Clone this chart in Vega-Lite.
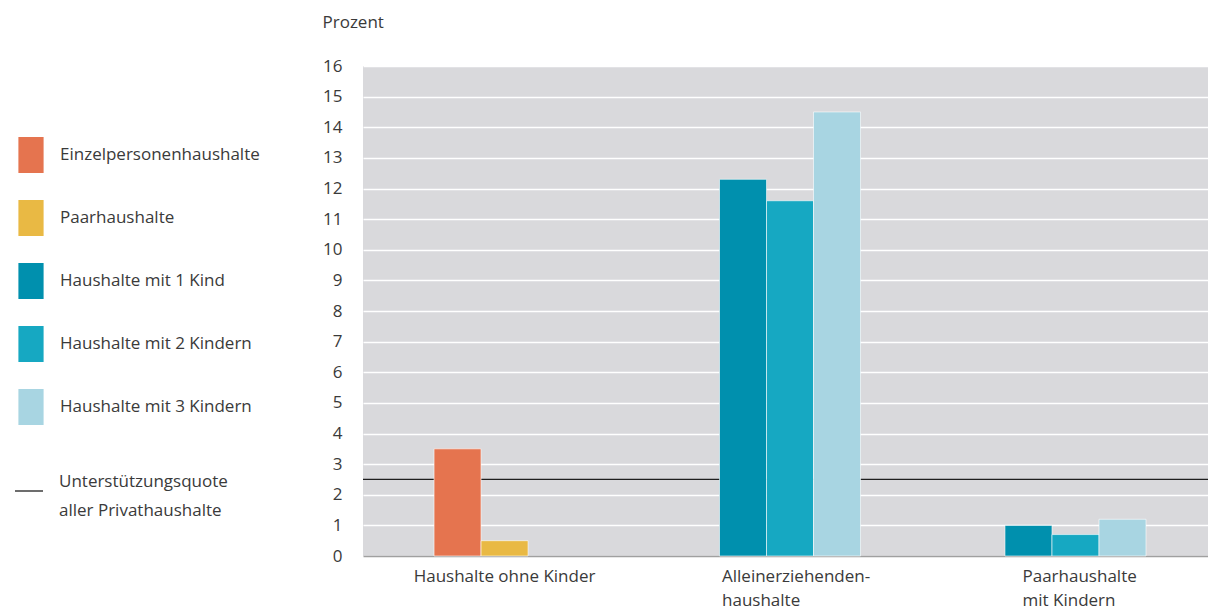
{
  "$schema": "https://vega.github.io/schema/vega-lite/v6.json",
  "width": 845,
  "height": 490,
  "autosize": {"type": "none"},
  "padding": {"left": 363, "top": 66, "right": 0, "bottom": 56},
  "background": "white",
  "config": {
    "view": {"fill": "#d9d9dc", "stroke": null},
    "font": "Open Sans",
    "axis": {"labelFont": "Open Sans", "labelColor": "#3a3a3a", "labelFontSize": 17, "titleFont": "Open Sans", "titleColor": "#3a3a3a", "labelLimit": 400},
    "legend": {"labelFont": "Open Sans", "labelColor": "#3a3a3a", "labelFontSize": 17, "labelLimit": 400}
  },
  "layer": [
    {
      "data": {"values": [{"quote": 2.5, "label": "Unterstützungsquote aller Privathaushalte"}]},
      "mark": {"type": "rule", "strokeWidth": 1.3},
      "encoding": {
        "y": {
          "field": "quote", "type": "quantitative", "scale": {"domain": [0, 16]},
          "axis": {
            "title": "Prozent", "titleAngle": 0, "titleAlign": "left", "titleBaseline": "middle",
            "titleX": -41, "titleY": -44, "titleFontSize": 17, "titleFontWeight": "normal",
            "values": [0,1,2,3,4,5,6,7,8,9,10,11,12,13,14,15,16], "labelOverlap": false,
            "grid": true, "gridColor": "#ffffff", "gridWidth": 1.5,
            "domain": false, "ticks": false, "labelPadding": 21
          }
        },
        "stroke": {
          "field": "label", "type": "nominal",
          "scale": {"range": ["#1e1e1e"]},
          "legend": {
            "title": null, "orient": "none", "legendX": -349, "legendY": 410,
            "symbolType": "stroke", "symbolSize": 784, "symbolStrokeWidth": 1.3,
            "labelOffset": 15, "labelBaseline": "middle",
            "labelExpr": "['Unterstützungsquote', 'aller Privathaushalte']",
            "encode": {"labels": {"update": {"lineHeight": {"value": 29}, "dy": {"value": -9}}}}
          }
        }
      }
    },
    {
      "data": {"values": [
        {"group": "Haushalte ohne Kinder", "category": "Einzelpersonenhaushalte", "slot": 1, "value": 3.5},
        {"group": "Haushalte ohne Kinder", "category": "Paarhaushalte", "slot": 2, "value": 0.5},
        {"group": "Alleinerziehenden-|haushalte", "category": "Haushalte mit 1 Kind", "slot": 1, "value": 12.3},
        {"group": "Alleinerziehenden-|haushalte", "category": "Haushalte mit 2 Kindern", "slot": 2, "value": 11.6},
        {"group": "Alleinerziehenden-|haushalte", "category": "Haushalte mit 3 Kindern", "slot": 3, "value": 14.5},
        {"group": "Paarhaushalte|mit Kindern", "category": "Haushalte mit 1 Kind", "slot": 1, "value": 1.0},
        {"group": "Paarhaushalte|mit Kindern", "category": "Haushalte mit 2 Kindern", "slot": 2, "value": 0.7},
        {"group": "Paarhaushalte|mit Kindern", "category": "Haushalte mit 3 Kindern", "slot": 3, "value": 1.2}
      ]},
      "mark": {"type": "bar", "stroke": "white", "strokeWidth": 0.6},
      "encoding": {
        "x": {
          "field": "group", "type": "nominal", "sort": null,
          "scale": {"paddingInner": 0.506, "paddingOuter": 0.233, "align": 0.534},
          "axis": {
            "title": null, "labelAngle": 0, "labelPadding": 12, "labelBaseline": "top",
            "labelLineHeight": 24, "ticks": false, "domain": true, "domainColor": "#a0a0a0", "domainWidth": 1.5,
            "labelExpr": "split(datum.label, '|')",
            "labelAlign": {"condition": {"test": "datum.value === 'Haushalte ohne Kinder'", "value": "center"}, "value": "left"},
            "labelOffset": {"condition": [
              {"test": "datum.value === 'Alleinerziehenden-|haushalte'", "value": -68},
              {"test": "datum.value === 'Paarhaushalte|mit Kindern'", "value": -53}
            ], "value": 0}
          }
        },
        "xOffset": {"field": "slot", "type": "ordinal", "scale": {"domain": [1, 2, 3], "paddingInner": 0}},
        "y": {
          "field": "value", "type": "quantitative",
          "scale": {"domain": [0, 16]},
          "axis": {
            "title": "Prozent", "titleAngle": 0, "titleAlign": "left", "titleBaseline": "middle",
            "titleX": -41, "titleY": -44, "titleFontSize": 17, "titleFontWeight": "normal",
            "values": [0,1,2,3,4,5,6,7,8,9,10,11,12,13,14,15,16], "labelOverlap": false,
            "grid": true, "gridColor": "#ffffff", "gridWidth": 1.5,
            "domain": false, "ticks": false, "labelPadding": 21
          }
        },
        "color": {
          "field": "category", "type": "nominal",
          "scale": {
            "domain": ["Einzelpersonenhaushalte", "Paarhaushalte", "Haushalte mit 1 Kind", "Haushalte mit 2 Kindern", "Haushalte mit 3 Kindern"],
            "range": ["#e5744f", "#e9b944", "#0090ae", "#16a8c2", "#a8d5e2"]
          },
          "legend": {
            "title": null, "orient": "none", "legendX": -350, "legendY": 71,
            "symbolType": "M-0.7,-1H0.7V1H-0.7Z", "symbolSize": 1296, "symbolStrokeWidth": 0,
            "rowPadding": 27, "labelOffset": 11
          }
        }
      }
    }
  ]
}
